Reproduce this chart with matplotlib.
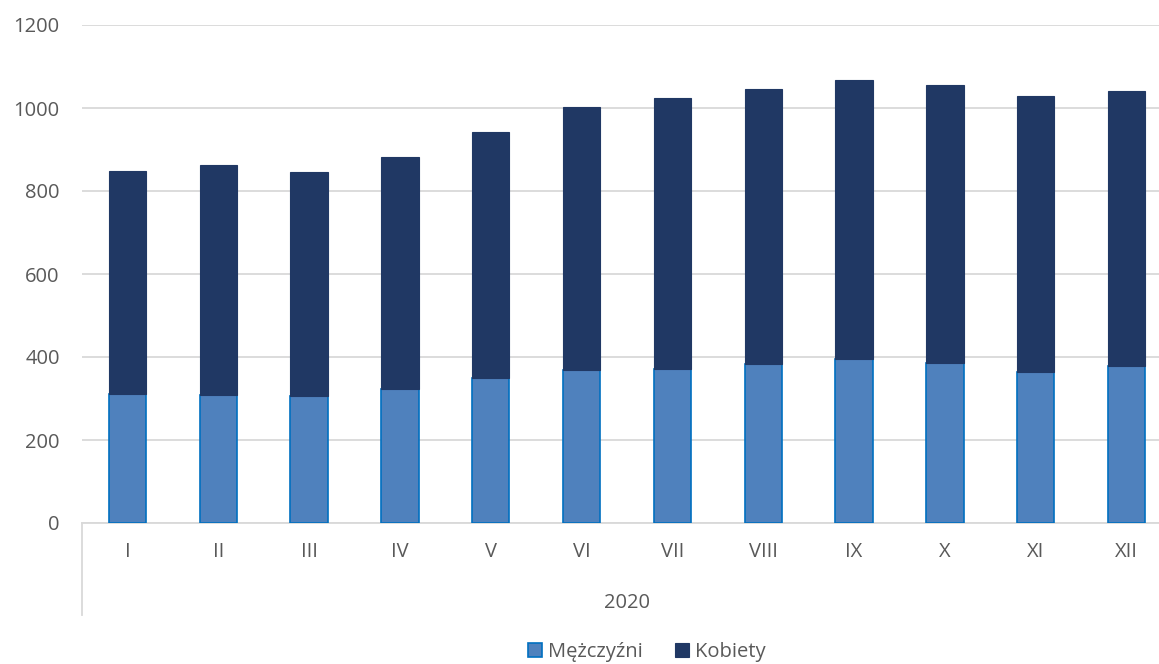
import matplotlib.pyplot as plt
import numpy as np

plt.rcParams['font.family'] = ['Open Sans', 'DejaVu Sans']

# Dane: liczba osób wg miesięcy 2020
months = ["I", "II", "III", "IV", "V", "VI", "VII", "VIII", "IX", "X", "XI", "XII"]
men = [312, 309, 307, 323, 350, 369, 370, 384, 394, 385, 364, 379]
totals = [848, 863, 846, 883, 943, 1002, 1024, 1046, 1068, 1056, 1028, 1042]
women = [t - m for t, m in zip(totals, men)]
year = "2020"

text_color = "#595959"
grid_color = "#D9D9D9"
fs = 14.5

fig = plt.figure(figsize=(11.59, 6.64), dpi=100)
# osie rozciągnięte nieco poza prawą krawędź, jak w oryginale
ax = fig.add_axes([82 / 1159, 1 - 523 / 664, (1172 - 82) / 1159, (523 - 25) / 664])

x = np.arange(len(months))
ax.bar(x, men, width=0.41, color="#4F81BD", edgecolor="#0070C0",
       linewidth=1.2, label="Mężczyźni", zorder=3)
ax.bar(x, women, width=0.41, bottom=men, color="#203864",
       edgecolor="#203864", linewidth=0.8, label="Kobiety", zorder=3)

ax.set_xlim(-0.5, len(months) - 0.5)
ax.set_ylim(0, 1200)
ax.set_yticks(range(0, 1201, 200))
ax.yaxis.grid(True, color=grid_color, linewidth=1.3, zorder=0)
ax.tick_params(axis="y", length=0, pad=16, labelsize=fs, labelcolor=text_color)
ax.tick_params(axis="x", length=0, pad=14, labelsize=fs, labelcolor=text_color)
ax.set_xticks(x)
ax.set_xticklabels(months)

for side in ["top", "right", "left"]:
    ax.spines[side].set_visible(False)
ax.spines["bottom"].set_color(grid_color)
ax.spines["bottom"].set_linewidth(1.3)

# Druga warstwa osi kategorii (rok)
ax.plot([-0.5, -0.5], [0, -0.185 * 1200], color=grid_color, linewidth=1.3,
        clip_on=False, transform=ax.transData)
ax.text(5.5, -0.161 * 1200, year, ha="center", va="center", fontsize=fs,
        color=text_color)

leg = fig.legend(loc="center", bbox_to_anchor=(647 / 1159, 1 - 652 / 664),
                 ncol=2, frameon=False, fontsize=fs, handlelength=0.7,
                 handleheight=0.7, handletextpad=0.3, columnspacing=1.6)
for t in leg.get_texts():
    t.set_color(text_color)

fig.savefig("out.png", dpi=100)
